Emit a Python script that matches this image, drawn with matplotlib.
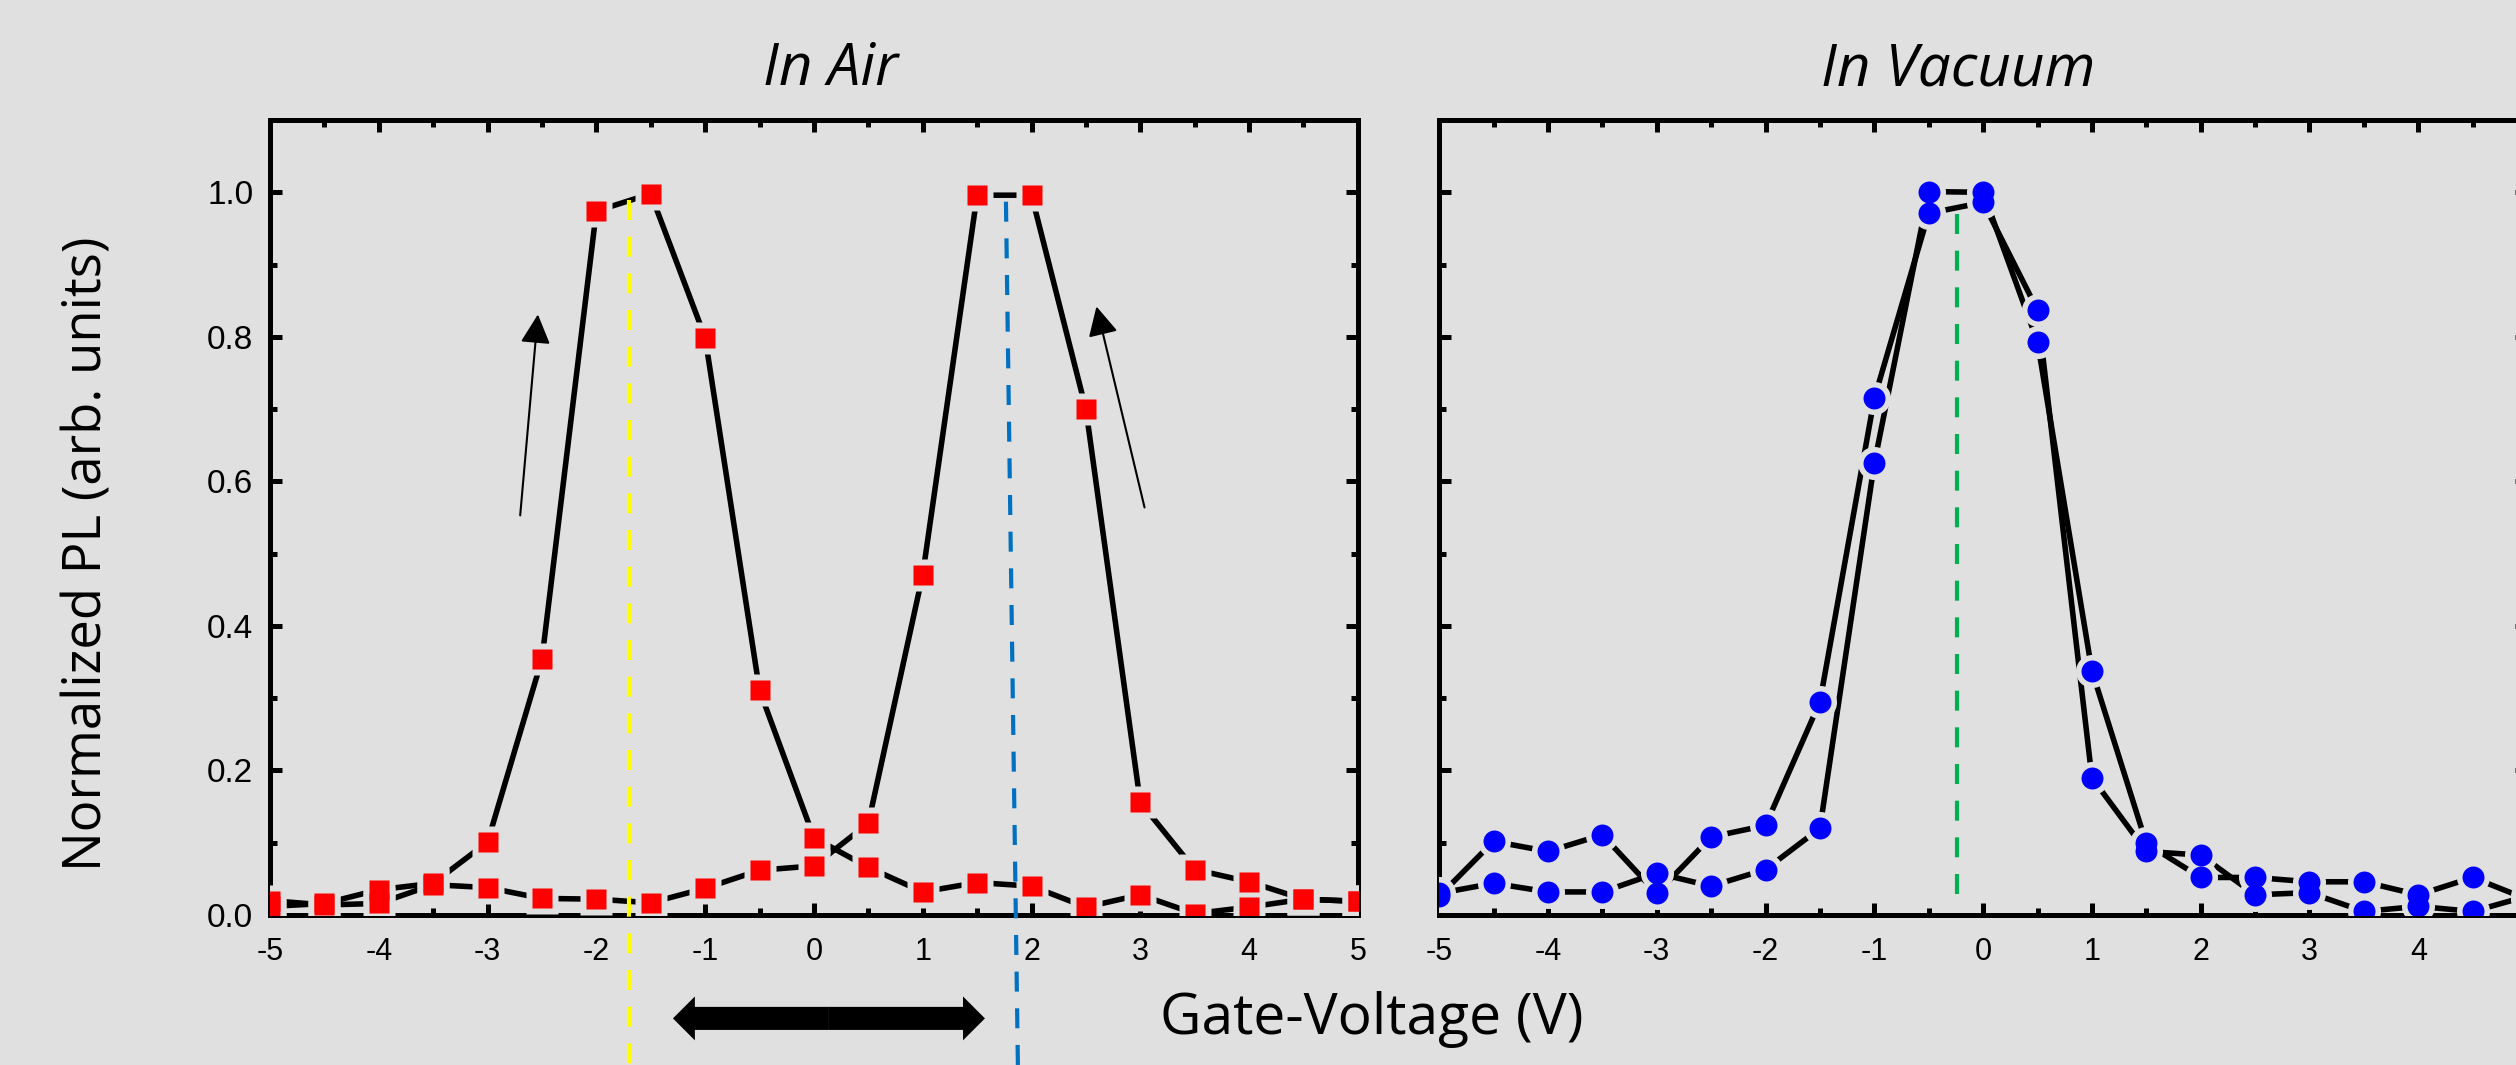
"""
PL vs gate voltage, in air (hysteresis) and in vacuum.
Values read off the reference figure.
"""

import matplotlib
matplotlib.use("Agg")
import matplotlib.pyplot as plt
from matplotlib.ticker import MultipleLocator, FormatStrFormatter, FuncFormatter

BG = "#e0e0e0"

gate_v = [-5, -4.5, -4, -3.5, -3, -2.5, -2, -1.5, -1, -0.5, 0,
          0.5, 1, 1.5, 2, 2.5, 3, 3.5, 4, 4.5, 5]

# in air, two sweep directions
air_sweep_a = [0.012, 0.016, 0.035, 0.044, 0.101, 0.354, 0.974, 0.998, 0.799, 0.311, 0.107,
               0.066, 0.032, 0.045, 0.040, 0.011, 0.028, 0.002, 0.011, 0.022, 0.019]
air_sweep_b = [0.020, 0.014, 0.016, 0.042, 0.038, 0.023, 0.022, 0.017, 0.037, 0.062, 0.068,
               0.127, 0.471, 0.996, 0.996, 0.700, 0.156, 0.063, 0.046, 0.022, 0.019]

# in vacuum, two sweep directions
vac_sweep_a = [0.026, 0.102, 0.088, 0.111, 0.030, 0.108, 0.124, 0.295, 0.715, 0.971, 0.986,
               0.837, 0.190, 0.088, 0.083, 0.028, 0.031, 0.005, 0.012, 0.005, 0.026]
vac_sweep_b = [0.030, 0.044, 0.032, 0.032, 0.058, 0.040, 0.063, 0.120, 0.625, 1.001, 1.000,
               0.793, 0.338, 0.099, 0.052, 0.052, 0.046, 0.046, 0.028, 0.052, 0.022]

# guide lines / arrows (data coords)
air_yellow_x = -1.70
air_blue_x = (1.765, 1.875)      # top, bottom (slightly slanted in the original)
vac_green_x = -0.24
sweep_arrows = [((-2.70, 0.553), (-2.537, 0.831)),
                ((3.039, 0.564), (2.597, 0.842))]
shift_arrow_x = (-1.296, 1.572)
shift_arrow_y = -0.143

TICK_FONT = "Liberation Sans"
TEXT_FONT = "Open Sans"


def style_axes(ax, label_left):
    ax.set_facecolor(BG)
    ax.set_xlim(-5, 5)
    ax.set_ylim(0, 1.1)
    ax.xaxis.set_major_locator(MultipleLocator(1))
    ax.xaxis.set_minor_locator(MultipleLocator(0.5))
    ax.yaxis.set_major_locator(MultipleLocator(0.2))
    ax.yaxis.set_minor_locator(MultipleLocator(0.1))
    ax.yaxis.set_major_formatter(FormatStrFormatter("%.1f"))
    ax.xaxis.set_major_formatter(FormatStrFormatter("%g"))
    for s in ax.spines.values():
        s.set_linewidth(3.6)
    ax.tick_params(which="both", direction="in", top=True, right=True,
                   width=3.6, labelleft=label_left)
    ax.tick_params(which="major", length=8.5)
    ax.tick_params(which="minor", length=5)
    ax.tick_params(axis="x", pad=16, labelsize=22)
    ax.tick_params(axis="y", pad=12, labelsize=24)
    for lab in ax.get_xticklabels() + ax.get_yticklabels():
        lab.set_family(TICK_FONT)


def draw_sweeps(ax, series, marker, color, ms, gap):
    # lines first, then background blobs to cut gaps, then the markers
    for y in series:
        ax.plot(gate_v, y, color="black", lw=4.0, zorder=2)
    for y in series:
        ax.plot(gate_v, y, ls="none", marker=marker, ms=ms + gap,
                mfc=BG, mec="none", zorder=3)
    for y in series:
        ax.plot(gate_v, y, ls="none", marker=marker, ms=ms,
                mfc=color, mec="none", zorder=4)


fig = plt.figure(figsize=(25.16, 10.65), dpi=100, facecolor=BG)
ax_air = fig.add_axes([0.1073, 0.1408, 0.4324, 0.7465])
ax_vac = fig.add_axes([0.5720, 0.1408, 0.4324, 0.7465])

style_axes(ax_air, True)
style_axes(ax_vac, False)
# the right panel runs off the page; its "5" label is not shown
ax_vac.xaxis.set_major_formatter(FuncFormatter(lambda v, pos: "" if v > 4.5 else "%g" % v))

draw_sweeps(ax_air, [air_sweep_a, air_sweep_b], "s", "#ff0000", 14.4, 8.5)
draw_sweeps(ax_vac, [vac_sweep_a, vac_sweep_b], "o", "#0000ff", 15.8, 8)

dash = (4.8, 4)
ax_air.plot([air_yellow_x, air_yellow_x], [0.989, -0.21], color="#ffff00", lw=3,
            dashes=dash, clip_on=False, zorder=5)
ax_air.plot(list(air_blue_x), [0.987, -0.21], color="#0070c0", lw=3,
            dashes=dash, clip_on=False, zorder=5)
ax_vac.plot([vac_green_x, vac_green_x], [0.970, 0.011], color="#00b050", lw=3,
            dashes=dash, zorder=5)

for tail, head in sweep_arrows:
    ax_air.annotate("", xy=head, xytext=tail, zorder=6,
                    arrowprops=dict(arrowstyle="-|>,head_length=0.45,head_width=0.23",
                                    mutation_scale=40, lw=1.5, color="black",
                                    shrinkA=0, shrinkB=0))

# thick double arrow under the left panel (two half arrows from the middle)
mid = 0.5 * (shift_arrow_x[0] + shift_arrow_x[1])
for end in shift_arrow_x:
    ax_air.annotate("", xy=(end, shift_arrow_y), xytext=(mid, shift_arrow_y),
                    annotation_clip=False,
                    arrowprops=dict(arrowstyle="simple,head_length=0.79,head_width=1.58,tail_width=0.83",
                                    mutation_scale=20, fc="black", ec="none",
                                    shrinkA=0, shrinkB=0))

ax_air.set_title("In Air", family=TEXT_FONT, style="italic", fontsize=42, pad=25, x=0.515)
ax_vac.set_title("In Vacuum", family=TEXT_FONT, style="italic", fontsize=42, pad=25, x=0.477)

fig.text(88 / 2516, 1 - 554 / 1065, "Normalized PL (arb. units)", rotation=90,
         ha="center", va="center", family=TEXT_FONT, fontsize=38)
fig.text(1372 / 2516, 1 - 1019 / 1065, "Gate-Voltage (V)",
         ha="center", va="center", family=TEXT_FONT, fontsize=41)

fig.savefig("out.png", dpi=100, facecolor=BG)
